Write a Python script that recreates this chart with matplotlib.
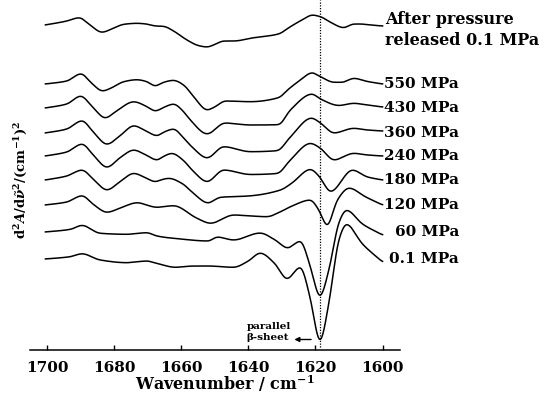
import numpy as np
import matplotlib
matplotlib.use("Agg")
import matplotlib.pyplot as plt
from matplotlib.transforms import blended_transform_factory

plt.rcParams['font.family'] = ['DejaVu Serif']
plt.rcParams['font.weight'] = 'bold'
plt.rcParams['mathtext.fontset'] = 'custom'
plt.rcParams['mathtext.rm'] = 'DejaVu Serif:bold'
plt.rcParams['mathtext.it'] = 'DejaVu Serif:italic:bold'
plt.rcParams['mathtext.bf'] = 'DejaVu Serif:bold'

# ---- data: second-derivative spectra (arbitrary units), wavenumber knots ----
labels = ["After pressure\nreleased 0.1 MPa", "550 MPa", "430 MPa", "360 MPa",
          "240 MPa", "180 MPa", "120 MPa", "60 MPa", "0.1 MPa"]
offsets = [325, 266, 242, 217, 194, 170, 145, 118, 91]

wn_rel = [1700.5, 1694.1, 1690.4, 1687.2, 1683.7, 1680.7, 1677.2, 1673.2, 1669.8, 1667.8,
          1665.3, 1662.3, 1658.3, 1654.8, 1652.3, 1649.9, 1647.4, 1644.4, 1638.4, 1631.0,
          1627.5, 1623.5, 1621.0, 1618.5, 1615.5, 1611.6, 1608.6, 1606.6, 1603.5, 1600.0]
d2_rel = [0, 4, 7.3, 0, -7.3, -4, 0.7, 1.7, 0.7, -1,
          -1.3, -6, -15, -20.7, -22, -19.3, -16, -16, -12.7, -9,
          -1.7, 6, 10, 8.3, 2.7, -2.7, 1, 1, 0, -1]

wn_550 = [1700.5, 1694.1, 1689.9, 1686.7, 1683.5, 1680.7, 1677.2, 1673.2, 1670.2, 1667.8,
          1665.3, 1662.3, 1659.3, 1656.3, 1652.3, 1649.9, 1646.9, 1639.4, 1631.0, 1628.0,
          1624.5, 1621.0, 1618.5, 1614.5, 1612.0, 1608.6, 1604.5, 1600.0]
d2_550 = [0, 3, 10.3, 0.7, -7, -3.7, 2.3, 4.3, 2.3, -2,
          1.7, 3.7, -1, -12.7, -26, -22.7, -17, -17.7, -13.7, -5,
          4, 11.3, 7.3, 1.7, 1.7, 5.7, 2.5, 0]

wn_430 = [1700.5, 1694.1, 1690.0, 1686.2, 1682.7, 1679.2, 1674.2, 1670.2, 1667.8, 1664.8,
          1662.3, 1659.3, 1657.3, 1652.3, 1647.0, 1639.4, 1631.0, 1627.5, 1621.0, 1618.5,
          1613.0, 1608.6, 1604.5, 1600.0]
d2_430 = [0, 4, 12, 0, -10, -2.7, 6.3, 1.3, -3, 1.3,
          4, -3.7, -12, -26, -15, -17, -16.7, -2, 14, 9,
          2.5, 4.7, 3, 1]

wn_360 = [1700.5, 1694.1, 1689.6, 1686.0, 1682.2, 1678.0, 1674.2, 1670.5, 1667.3, 1664.8,
          1662.3, 1659.3, 1656.5, 1652.3, 1647.4, 1639.4, 1631.4, 1627.5, 1621.2, 1618.5,
          1614.5, 1608.6, 1604.5, 1600.0]
d2_360 = [0, 4, 12.3, 0, -11.3, -2, 7.3, 2, -2.7, 1.5,
          4, -5, -15, -25, -13.7, -18.7, -17.7, -4, 15, 10,
          0, 4.7, 3, 2]

wn_240 = [1700.5, 1694.1, 1689.6, 1686.0, 1682.2, 1678.0, 1674.2, 1670.5, 1667.3, 1664.8,
          1662.8, 1659.5, 1656.5, 1652.3, 1647.4, 1639.4, 1631.4, 1627.5, 1621.5, 1618.5,
          1614.5, 1608.6, 1604.5, 1600.0]
d2_240 = [0, 4, 12, 0, -11.3, -1, 6, 1, -4, 0.5,
          2.7, -4, -15, -25.7, -14, -18.5, -17.5, -4, 12.7, 7.7,
          -4, 2.7, 1, 0]

wn_180 = [1700.5, 1694.1, 1689.6, 1686.0, 1682.2, 1678.0, 1674.2, 1670.5, 1667.8, 1665.5,
          1663.7, 1659.5, 1656.5, 1652.0, 1648.4, 1640.0, 1630.4, 1627.0, 1621.5, 1618.8,
          1615.5, 1609.0, 1604.5, 1600.0]
d2_180 = [0, 4, 10, 0, -10, -1, 6.7, 2, -1.7, 0.7,
          1.7, -4, -13, -23, -17.3, -16, -10, -3, 10.7, 3.3,
          -11.7, 10, 3, 0]

wn_120 = [1700.5, 1694.1, 1689.6, 1686.0, 1682.2, 1677.5, 1673.2, 1667.3, 1662.3, 1655.3,
          1651.3, 1644.4, 1634.4, 1630.4, 1627.0, 1621.5, 1619.0, 1616.5, 1613.5, 1610.0,
          1605.0, 1600.0]
d2_120 = [0, 3, 9.3, 0, -7.3, -2, 2.3, -2.3, -0.7, -13.3,
          -18.3, -10, -11.7, -6.7, -1, 5, -5, -21, 5, 17,
          8, 0]

wn_60 = [1700.5, 1693.0, 1689.6, 1684.2, 1676.2, 1670.2, 1667.3, 1660.3, 1651.9, 1649.3,
         1644.4, 1636.5, 1632.0, 1628.3, 1624.5, 1621.5, 1618.7, 1615.8, 1613.0, 1610.8,
         1606.0, 1600.0]
d2_60 = [0, 2.7, 6.7, -1.3, -2.3, -0.7, -4, -7, -9, -5,
         -8, -1, -8, -16, -9, -35, -65, -35, 10, 22,
         8, -3]

wn_01 = [1700.5, 1693.1, 1689.6, 1684.2, 1676.2, 1670.2, 1667.3, 1661.8, 1656.3, 1651.9,
         1644.4, 1640.0, 1636.5, 1632.0, 1628.5, 1624.5, 1621.5, 1618.7, 1615.8, 1613.0,
         1610.8, 1606.0, 1600.0]
d2_01 = [0, 2.3, 5.3, -1, -3.7, -2, -4.3, -8.3, -7, -7,
         -8.3, -2, 6, -5, -20, -8, -40, -83, -40, 20,
         35, 15, -3]

series_wn = [wn_rel, wn_550, wn_430, wn_360, wn_240, wn_180, wn_120, wn_60, wn_01]
series_d2 = [d2_rel, d2_550, d2_430, d2_360, d2_240, d2_180, d2_120, d2_60, d2_01]

xticks = [1700, 1680, 1660, 1640, 1620, 1600]
band_position = 1618.7


def pchip(xk, yk, xs):
    x = np.asarray(xk, float)
    y = np.asarray(yk, float)
    order = np.argsort(x)
    x, y = x[order], y[order]
    h = np.diff(x)
    d = np.diff(y) / h
    n = len(x)
    m = np.zeros(n)
    for k in range(1, n - 1):
        if d[k - 1] * d[k] <= 0:
            m[k] = 0.0
        else:
            w1 = 2 * h[k] + h[k - 1]
            w2 = h[k] + 2 * h[k - 1]
            m[k] = (w1 + w2) / (w1 / d[k - 1] + w2 / d[k])
    m[0] = d[0]
    m[-1] = d[-1]
    i = np.clip(np.searchsorted(x, xs) - 1, 0, n - 2)
    t = (xs - x[i]) / h[i]
    h00 = 2 * t**3 - 3 * t**2 + 1
    h10 = t**3 - 2 * t**2 + t
    h01 = -2 * t**3 + 3 * t**2
    h11 = t**3 - t**2
    return h00 * y[i] + h10 * h[i] * m[i] + h01 * y[i + 1] + h11 * h[i] * m[i + 1]


def soften(xs, ys, sigma):
    # light gaussian rounding of the drawn curve (presentation only)
    step = xs[1] - xs[0]
    half = int(3 * sigma / step) + 1
    k = np.exp(-0.5 * (np.arange(-half, half + 1) * step / sigma) ** 2)
    k /= k.sum()
    padded = np.concatenate([np.full(half, ys[0]), ys, np.full(half, ys[-1])])
    return np.convolve(padded, k, mode='valid')


fig = plt.figure(figsize=(5.48, 3.94), dpi=100)
ax = fig.add_axes([30 / 548, 44 / 394, 370 / 548, 350 / 394])

for wn, d2, off in zip(series_wn, series_d2, offsets):
    xs = np.linspace(min(wn), max(wn), 1000)
    ys = soften(xs, pchip(wn, d2, xs), 0.55) + off
    ax.plot(xs, ys, color='black', lw=1.1, solid_joinstyle='round')

ax.axvline(band_position, color='black', lw=0.9, ls=(0, (1, 1.2)), ymin=0.01, ymax=1.0)

ax.set_xlim(1705.1, 1594.8)
ax.set_ylim(0, 350)
for s in ['left', 'right', 'top']:
    ax.spines[s].set_visible(False)
ax.spines['bottom'].set_linewidth(1.1)
ax.set_yticks([])
ax.set_xticks(xticks)
ax.set_xticklabels([str(t) for t in xticks])
ax.tick_params(axis='x', direction='in', length=3.5, width=1.0, labelsize=11, pad=8)

trans = blended_transform_factory(fig.transFigure, ax.transData)
for lab, off in zip(labels[1:], offsets[1:]):
    ax.text(459 / 548, off, lab, transform=trans, ha='right', va='center',
            fontsize=11, fontweight='bold', clip_on=False)
ax.text(385 / 548, offsets[0] - 5, labels[0], transform=trans, ha='left', va='center',
        fontsize=11.5, fontweight='bold', linespacing=1.25, clip_on=False)

ax.text(1640.5, 18, "parallel\n\u03b2-sheet", ha='left', va='center', fontsize=7.5,
        fontweight='bold', linespacing=1.2)
ax.annotate("", xy=(1626.3, 10.5), xytext=(1621.3, 10.5),
            arrowprops=dict(arrowstyle='-|>', color='black', lw=1.0,
                            mutation_scale=7, shrinkA=0, shrinkB=0))

fig.text(225 / 548, 1 - 384 / 394, r"Wavenumber / cm$^{-1}$", ha='center', va='center',
         fontsize=11.5, fontweight='bold')
fig.text(21 / 548, 1 - 180 / 394,
         r"$\mathrm{d}^2\mathit{A}/\mathrm{d}\tilde{\nu}^2/(\mathrm{cm}^{-1})^2$",
         rotation=90, ha='center', va='center', fontsize=9.5)

fig.savefig("out.png", dpi=100)
